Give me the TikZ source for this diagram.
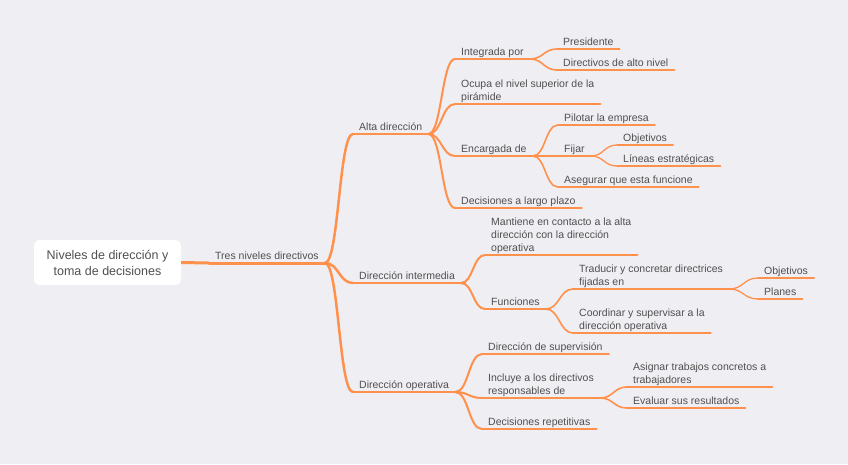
\documentclass[tikz,border=0pt]{standalone}
\usepackage{fontspec}
\setmainfont{Liberation Sans}
\usetikzlibrary{calc}
\definecolor{mmorange}{RGB}{255,145,77}
\definecolor{mmback}{RGB}{239,238,243}
\definecolor{mmtext}{RGB}{80,80,80}

\begin{document}
\begin{tikzpicture}[
        x=1pt, y=-1pt,
        rootbox/.style={rectangle,fill=white,rounded corners=6pt,minimum width=147pt,minimum height=45pt,inner sep=0pt,align=center,text=mmtext,font=\fontsize{12.5}{16}\selectfont},
        topic/.style={anchor=south west,inner xsep=6pt,inner ysep=0pt,align=left,text=mmtext,font=\fontsize{10.5}{13}\selectfont,execute at end node=\rule[-3pt]{0pt}{3pt},
            append after command={(\tikzlastnode.south west) edge[draw=mmorange,line width=#1,line cap=round] (\tikzlastnode.south east)}},
        topic/.default=1.6pt,
        branch/.style={draw=mmorange,line width=#1,line cap=round,
            to path={.. controls ($(\tikztostart)!0.5!(\tikztostart -| \tikztotarget)$) and ($(\tikztotarget)!0.5!(\tikztotarget -| \tikztostart)$) .. (\tikztotarget)}}
    ]
        \fill[mmback] (0,0) rectangle (848,464);
        \useasboundingbox (0,0) rectangle (848,464);

        \node[rootbox] (raiz) at (107.5,262.5) {Niveles de dirección y\\toma de decisiones};
        \node[topic=3pt] (tres) at (209,263) {Tres niveles directivos};

        \node[topic=2.5pt] (alta) at (353,134) {Alta dirección};
        \node[topic=2.5pt] (intermedia) at (353,283) {Dirección intermedia};
        \node[topic=2.5pt] (operativa) at (353,392) {Dirección operativa};

        \node[topic=2pt] (integrada) at (455,59) {Integrada por};
        \node[topic] (presidente) at (557,49) {Presidente};
        \node[topic] (altonivel) at (557,70) {Directivos de alto nivel};
        \node[topic=2pt] (ocupa) at (455,104) {Ocupa el nivel superior de la\\pirámide};
        \node[topic=2pt] (encargada) at (455,156) {Encargada de};
        \node[topic] (pilotar) at (558,125) {Pilotar la empresa};
        \node[topic] (fijar) at (558,156) {Fijar};
        \node[topic=1.3pt] (objetivosA) at (617,145) {Objetivos};
        \node[topic=1.3pt] (lineas) at (617,166) {Líneas estratégicas};
        \node[topic] (asegurar) at (558,187) {Asegurar que esta funcione};
        \node[topic=2pt] (largo) at (455,208) {Decisiones a largo plazo};

        \node[topic=2pt] (mantiene) at (485,255) {Mantiene en contacto a la alta\\dirección con la dirección\\operativa};
        \node[topic=2pt] (funciones) at (485,309) {Funciones};
        \node[topic] (traducir) at (573,289) {Traducir y concretar directrices\\fijadas en};
        \node[topic=1.3pt] (objetivosB) at (758,278) {Objetivos};
        \node[topic=1.3pt] (planes) at (758,299) {Planes};
        \node[topic] (coordinar) at (573,333) {Coordinar y supervisar a la\\dirección operativa};

        \node[topic=2pt] (supervision) at (482,354) {Dirección de supervisión};
        \node[topic=2pt] (incluye) at (482,398) {Incluye a los directivos\\responsables de};
        \node[topic] (asignar) at (627,387) {Asignar trabajos concretos a\\trabajadores};
        \node[topic] (evaluar) at (627,408) {Evaluar sus resultados};
        \node[topic=2pt] (repetitivas) at (482,429) {Decisiones repetitivas};

        \draw[mmorange,line width=3pt] (raiz.east) -- (tres.south west);

        \draw[branch=2.5pt] (tres.south east) to (alta.south west);
        \draw[branch=2.5pt] (tres.south east) to (intermedia.south west);
        \draw[branch=2.5pt] (tres.south east) to (operativa.south west);

        \draw[branch=2pt] (alta.south east) to (integrada.south west);
        \draw[branch=2pt] (alta.south east) to (ocupa.south west);
        \draw[branch=2pt] (alta.south east) to (encargada.south west);
        \draw[branch=2pt] (alta.south east) to (largo.south west);
        \draw[branch=1.6pt] (integrada.south east) to (presidente.south west);
        \draw[branch=1.6pt] (integrada.south east) to (altonivel.south west);
        \draw[branch=1.6pt] (encargada.south east) to (pilotar.south west);
        \draw[branch=1.6pt] (encargada.south east) to (fijar.south west);
        \draw[branch=1.6pt] (encargada.south east) to (asegurar.south west);
        \draw[branch=1.3pt] (fijar.south east) to (objetivosA.south west);
        \draw[branch=1.3pt] (fijar.south east) to (lineas.south west);

        \draw[branch=2pt] (intermedia.south east) to (mantiene.south west);
        \draw[branch=2pt] (intermedia.south east) to (funciones.south west);
        \draw[branch=1.6pt] (funciones.south east) to (traducir.south west);
        \draw[branch=1.6pt] (funciones.south east) to (coordinar.south west);
        \draw[branch=1.3pt] (traducir.south east) to (objetivosB.south west);
        \draw[branch=1.3pt] (traducir.south east) to (planes.south west);

        \draw[branch=2pt] (operativa.south east) to (supervision.south west);
        \draw[branch=2pt] (operativa.south east) to (incluye.south west);
        \draw[branch=2pt] (operativa.south east) to (repetitivas.south west);
        \draw[branch=1.6pt] (incluye.south east) to (asignar.south west);
        \draw[branch=1.6pt] (incluye.south east) to (evaluar.south west);
    \end{tikzpicture}
\end{document}
